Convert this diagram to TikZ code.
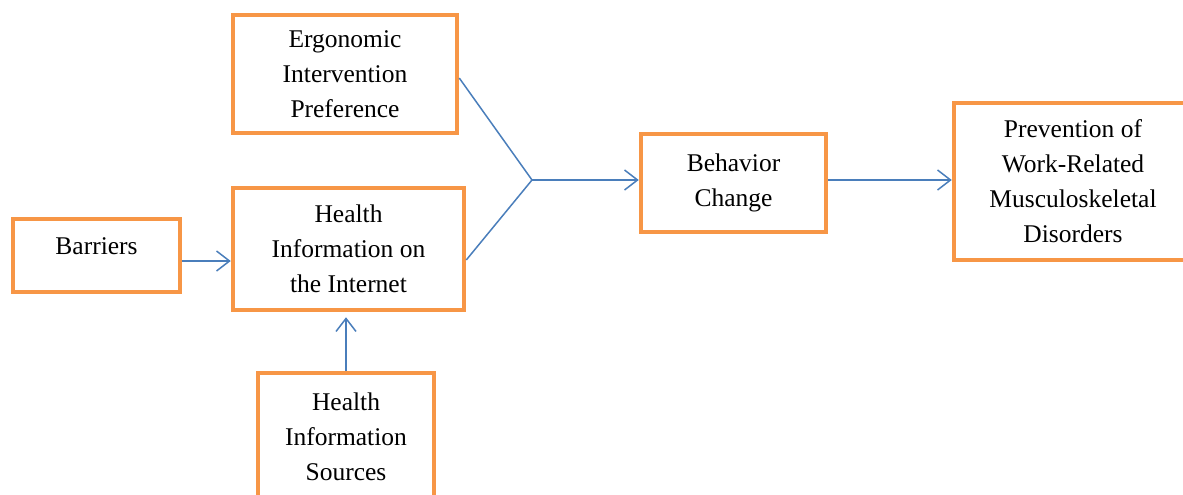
\documentclass[tikz,border=0pt]{standalone}
\usepackage{fontspec}
\setmainfont{Liberation Serif}
\usetikzlibrary{arrows.meta}
\definecolor{boxorange}{HTML}{F79646}
\definecolor{lineblue}{HTML}{4A7EBB}
\begin{document}
\begin{tikzpicture}[x=1pt,y=-1pt,
  box/.style={draw=boxorange,line width=4.5pt,rectangle,align=center,inner sep=0pt,
    font=\fontsize{25.5}{35}\selectfont},
  conn/.style={draw=lineblue,line width=1.5pt},
  arr/.style={conn,-{Straight Barb[length=13pt,width=20pt,line width=1.5pt]}}]
\useasboundingbox (0,0) rectangle (1183,495);
\clip (0,0) rectangle (1183,495);
\node[box,minimum width=224pt,minimum height=118pt] (ergo) at (345,74)
  {Ergonomic\\Intervention\\Preference};
\node[box,minimum width=231pt,minimum height=122pt] (inet) at (348.5,249)
  {Health\\Information on\\the Internet};
\node[box,minimum width=167pt,minimum height=73pt,text depth=18pt] (barr) at (96.5,255.5)
  {Barriers};
\node[box,minimum width=176pt,minimum height=128pt] (src) at (346,437)
  {Health\\Information\\Sources};
\node[box,minimum width=185pt,minimum height=98pt] (beh) at (733.5,183)
  {Behavior\\Change};
\node[box,minimum width=238pt,minimum height=157pt] (prev) at (1073,181.5)
  {Prevention of\\Work-Related\\Musculoskeletal\\Disorders};
\coordinate (J) at (532,180);
\draw[conn] ([yshift=-4pt]ergo.east) -- (J);
\draw[conn] ([yshift=-11pt]inet.east) -- (J);
\draw[arr] (J) -- (J -| beh.west);
\path ([yshift=3pt]beh.east) coordinate (b2);
\draw[arr] (b2) -- (b2 -| prev.west);
\path ([yshift=-5.5pt]barr.east) coordinate (b1);
\draw[arr] (b1) -- (b1 -| inet.west);
\draw[arr,shorten >=5pt] (src.north) -- (src.north |- inet.south);
\end{tikzpicture}
\end{document}
